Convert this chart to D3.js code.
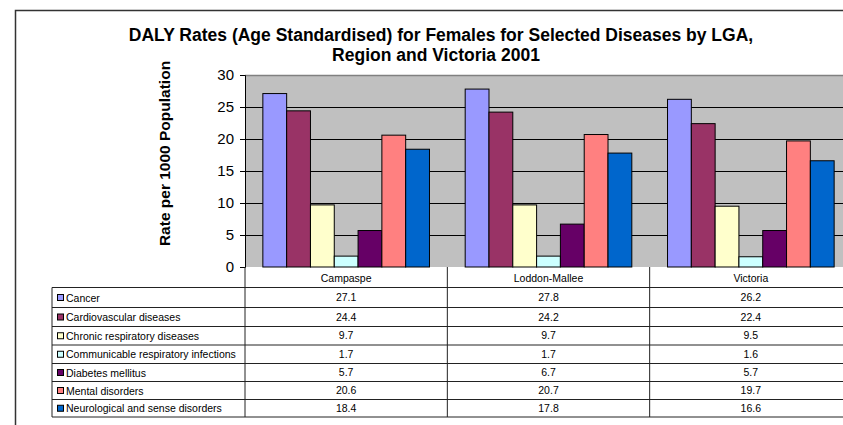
<!DOCTYPE html>
<html>
<head>
<meta charset="utf-8">
<script src="https://cdn.jsdelivr.net/npm/d3@7"></script>
<style>
  html, body { margin: 0; padding: 0; background: #fff; }
  svg { display: block; font-family: "Liberation Sans", Arial, sans-serif; }
</style>
</head>
<body>
<svg id="chart" width="843" height="425"></svg>
<script>
// Areas shown along the x axis
const categories = ["Campaspe", "Loddon-Mallee", "Victoria"];

// Disease groups (one bar per group in each area)
const seriesNames = [
  "Cancer",
  "Cardiovascular diseases",
  "Chronic respiratory diseases",
  "Communicable respiratory infections",
  "Diabetes mellitus",
  "Mental disorders",
  "Neurological and sense disorders"
];

// DALY rate per 1000 population, per disease group, in category order
const cancer         = [27.1, 27.8, 26.2];
const cardiovascular = [24.4, 24.2, 22.4];
const chronicResp    = [9.7, 9.7, 9.5];
const communicable   = [1.7, 1.7, 1.6];
const diabetes       = [5.7, 6.7, 5.7];
const mental         = [20.6, 20.7, 19.7];
const neurological   = [18.4, 17.8, 16.6];

const seriesColors = ["#9999FF", "#993366", "#FFFFCC", "#CCFFFF", "#660066", "#FF8080", "#0066CC"];

const yTicks = [0, 5, 10, 15, 20, 25, 30];

const seriesValues = [cancer, cardiovascular, chronicResp, communicable, diabetes, mental, neurological];

const svg = d3.select("#chart");

// outer chart frame (runs past the right and bottom edges)
svg.append("path")
  .attr("d", "M15.5,430 V10.5 H860")
  .attr("fill", "none")
  .attr("stroke", "#333")
  .attr("stroke-width", 1.5);

// title
const title = svg.append("text")
  .attr("text-anchor", "middle")
  .attr("font-weight", "bold")
  .attr("font-size", 17.5)
  .attr("fill", "#000");
title.append("tspan").attr("x", 441).attr("y", 40.5)
  .text("DALY Rates (Age Standardised) for Females for Selected Diseases by LGA,");
title.append("tspan").attr("x", 436).attr("y", 61)
  .text("Region and Victoria 2001");

// plot geometry
const plotLeft = 245, plotRight = 852, plotTop = 75, plotBottom = 267;

const x = d3.scaleBand().domain(categories).range([plotLeft, plotRight]).paddingInner(0).paddingOuter(0);
const xs = d3.scaleBand().domain(seriesNames).range([0, x.bandwidth()]).paddingInner(0).paddingOuter(0.75);
const y = d3.scaleLinear().domain([0, 30]).range([plotBottom, plotTop]);

// plot background
svg.append("rect")
  .attr("x", plotLeft).attr("y", plotTop)
  .attr("width", plotRight - plotLeft).attr("height", plotBottom - plotTop)
  .attr("fill", "#C0C0C0");

// top edge of plot area
svg.append("line")
  .attr("x1", plotLeft).attr("x2", plotRight)
  .attr("y1", plotTop + 0.5).attr("y2", plotTop + 0.5)
  .attr("stroke", "#808080").attr("stroke-width", 1.5);

// gridlines
svg.append("g")
  .selectAll("line")
  .data(yTicks.filter(t => t > 0 && t < 30))
  .join("line")
  .attr("x1", plotLeft).attr("x2", plotRight)
  .attr("y1", d => Math.round(y(d)) + 0.5).attr("y2", d => Math.round(y(d)) + 0.5)
  .attr("stroke", "#000").attr("stroke-width", 1);

// bars
const groups = svg.append("g")
  .selectAll("g")
  .data(categories)
  .join("g")
  .attr("transform", d => `translate(${x(d)},0)`);

groups.selectAll("rect")
  .data((c, ci) => seriesNames.map((s, si) => ({ s, si, v: seriesValues[si][ci] })))
  .join("rect")
  .attr("x", d => xs(d.s))
  .attr("y", d => y(d.v))
  .attr("width", xs.bandwidth())
  .attr("height", d => y(0) - y(d.v))
  .attr("fill", d => seriesColors[d.si])
  .attr("stroke", "#000")
  .attr("stroke-width", 1);

// y axis
const yAxis = svg.append("g")
  .attr("transform", `translate(${plotLeft},0)`)
  .call(d3.axisLeft(y).tickValues(yTicks).tickSize(5).tickPadding(6));
yAxis.select(".domain").attr("stroke", "#000");
yAxis.selectAll(".tick line").attr("stroke", "#000");
yAxis.selectAll(".tick text")
  .attr("font-size", 15)
  .attr("font-family", "Liberation Sans, Arial, sans-serif")
  .attr("fill", "#000");

// y axis title
svg.append("text")
  .attr("transform", `translate(170,153.5) rotate(-90)`)
  .attr("text-anchor", "middle")
  .attr("font-weight", "bold")
  .attr("font-size", 15.5)
  .text("Rate per 1000 Population");

// data table under the plot
const tableLeft = 52;
const rowEdges = [287.5, 307.5, 326.5, 345, 363.5, 381.5, 399.5, 417];
const tableBottom = rowEdges[rowEdges.length - 1];
const lineColor = "#222";

const table = svg.append("g");

// category header row
table.selectAll("text.cat")
  .data(categories)
  .join("text")
  .attr("class", "cat")
  .attr("x", d => x(d) + x.bandwidth() / 2)
  .attr("y", plotBottom + 14.5)
  .attr("text-anchor", "middle")
  .attr("font-size", 10.5)
  .text(d => d);

// horizontal lines
table.selectAll("line.h")
  .data(rowEdges)
  .join("line")
  .attr("class", "h")
  .attr("x1", tableLeft).attr("x2", plotRight)
  .attr("y1", d => d).attr("y2", d => d)
  .attr("stroke", lineColor).attr("stroke-width", 1);

// vertical lines
table.append("line")
  .attr("x1", tableLeft).attr("x2", tableLeft)
  .attr("y1", rowEdges[0]).attr("y2", tableBottom)
  .attr("stroke", lineColor);
table.selectAll("line.v")
  .data(categories)
  .join("line")
  .attr("class", "v")
  .attr("x1", d => x(d)).attr("x2", d => x(d))
  .attr("y1", plotBottom).attr("y2", tableBottom)
  .attr("stroke", lineColor);

// legend keys and names
const rows = table.selectAll("g.row")
  .data(seriesNames)
  .join("g")
  .attr("class", "row")
  .attr("transform", (d, i) => `translate(0,${(rowEdges[i] + rowEdges[i + 1]) / 2})`);

rows.append("rect")
  .attr("x", tableLeft + 5.5).attr("y", -3)
  .attr("width", 6).attr("height", 6)
  .attr("fill", (d, i) => seriesColors[i])
  .attr("stroke", "#000").attr("stroke-width", 1);

rows.append("text")
  .attr("x", tableLeft + 14)
  .attr("y", 4)
  .attr("font-size", 10.5)
  .text(d => d);

// values
rows.each(function(s, si) {
  d3.select(this).selectAll("text.val")
    .data(categories.map((c, ci) => ({ c, v: seriesValues[si][ci] })))
    .join("text")
    .attr("class", "val")
    .attr("x", d => x(d.c) + x.bandwidth() / 2)
    .attr("y", 3.5)
    .attr("text-anchor", "middle")
    .attr("font-size", 10.5)
    .text(d => d.v.toFixed(1));
});
</script>
</body>
</html>
